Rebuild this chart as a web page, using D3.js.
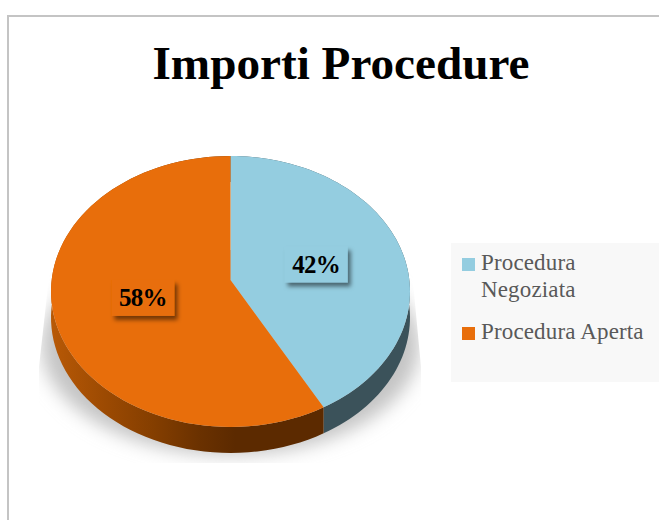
<!DOCTYPE html>
<html>
<head>
<meta charset="utf-8">
<script src="https://cdn.jsdelivr.net/npm/d3@7"></script>
<style>
  html, body { margin: 0; padding: 0; background: #fff; }
  svg { display: block; }
  text { font-family: "Liberation Serif", serif; }
</style>
</head>
<body>
<svg id="chart" width="659" height="520"></svg>
<script>
var chartTitle = "Importi Procedure";
var categories = ["Procedura Negoziata", "Procedura Aperta"];
var values = [42, 58];
var legendLines = [["Procedura", "Negoziata"], ["Procedura Aperta"]];
var colors = ["#94cde0", "#e86e0b"];

var svg = d3.select("#chart");
var defs = svg.append("defs");

// card
svg.append("rect")
    .attr("x", 8).attr("y", 16)
    .attr("width", 700).attr("height", 600)
    .attr("fill", "#fff")
    .attr("stroke", "#c4c4c4")
    .attr("stroke-width", 2);

svg.append("text")
    .attr("x", 341).attr("y", 79)
    .attr("text-anchor", "middle")
    .attr("font-size", 47.2)
    .attr("font-weight", "bold")
    .attr("fill", "#000")
    .text(chartTitle);

// pie tilted with a bit of perspective, front looks bigger than back
var cx = 230.5, cy = 280, rx = 178.85, ry = 134.5, persp = 0.0849, depth = 26;

function project(angle, r) {
    var u = Math.sin(angle) * r;
    var v = -Math.cos(angle) * r;
    var k = 1 - persp * v;
    return [cx + rx * u / k, cy + ry * v / k];
}

var color = d3.scaleOrdinal().domain(categories).range(colors);
var pie = d3.pie().sort(null);
var slices = pie(values);
var line = d3.line();

function arcPoints(d) {
    var n = 80;
    return d3.range(n + 1).map(function(i) {
        return project(d.startAngle + (d.endAngle - d.startAngle) * i / n, 1);
    });
}

// side gradient for the orange part
var grad = defs.append("linearGradient")
    .attr("id", "sideOrange")
    .attr("gradientUnits", "userSpaceOnUse")
    .attr("x1", 51).attr("x2", 322).attr("y1", 0).attr("y2", 0);
[[0, "#b85906"], [0.2, "#9c4a02"], [0.38, "#843e00"], [0.55, "#6a3100"], [0.68, "#5c2a00"], [1, "#5c2a00"]]
    .forEach(function(s) {
        grad.append("stop").attr("offset", s[0]).attr("stop-color", s[1]);
    });

// shadow under the pie
defs.append("filter").attr("id", "blur")
    .attr("x", "-30%").attr("y", "-30%").attr("width", "160%").attr("height", "160%")
    .append("feGaussianBlur").attr("stdDeviation", 9);
defs.append("clipPath").attr("id", "shadowClip")
    .append("path")
    .attr("d", "M52,250L39,367L39,463L421,463L421,367L410,250Z");
defs.append("filter").attr("id", "labelShadow")
    .attr("x", "-30%").attr("y", "-30%").attr("width", "170%").attr("height", "170%")
    .append("feDropShadow")
    .attr("dx", 3).attr("dy", 4).attr("stdDeviation", 2.2)
    .attr("flood-color", "#000").attr("flood-opacity", 0.5);

svg.append("g").attr("clip-path", "url(#shadowClip)")
    .append("ellipse")
    .attr("cx", cx).attr("cy", 345)
    .attr("rx", 189).attr("ry", 110)
    .attr("fill", "#c4c4c4")
    .attr("filter", "url(#blur)");

// sides
svg.append("g").selectAll("path")
    .data(slices)
    .join("path")
    .attr("d", function(d) {
        var top = arcPoints(d);
        var bottom = top.map(function(p) { return [p[0], p[1] + depth]; }).reverse();
        return line(top.concat(bottom)) + "Z";
    })
    .attr("fill", function(d, i) { return i === 0 ? "#3b525a" : "url(#sideOrange)"; });

// top face
svg.append("g").selectAll("path")
    .data(slices)
    .join("path")
    .attr("d", function(d) {
        return line([[cx, cy]].concat(arcPoints(d))) + "Z";
    })
    .attr("fill", function(d, i) { return color(categories[i]); });

// data labels
var labels = svg.append("g").selectAll("g")
    .data(slices)
    .join("g")
    .attr("transform", function(d) {
        var p = project((d.startAngle + d.endAngle) / 2, 0.5);
        return "translate(" + p[0] + "," + (p[1] + 1) + ")";
    });
labels.append("rect")
    .attr("x", -31.5).attr("y", -18)
    .attr("width", 63).attr("height", 36)
    .attr("fill", function(d, i) { return color(categories[i]); })
    .attr("filter", "url(#labelShadow)");
labels.append("text")
    .attr("text-anchor", "middle")
    .attr("y", 8.5)
    .attr("font-size", 25)
    .attr("font-weight", "bold")
    .attr("letter-spacing", -0.7)
    .attr("fill", "#000")
    .text(function(d) { return d.data + "%"; });

// legend
svg.append("rect")
    .attr("x", 451).attr("y", 243)
    .attr("width", 208).attr("height", 139)
    .attr("fill", "#f8f8f8");

var legendY = d3.scalePoint().domain(categories).range([258, 327]);
var legend = svg.append("g").selectAll("g")
    .data(categories)
    .join("g")
    .attr("transform", function(d) { return "translate(462," + legendY(d) + ")"; });
legend.append("rect")
    .attr("width", 13).attr("height", 13)
    .attr("fill", function(d) { return color(d); });
legend.each(function(d, i) {
    d3.select(this).selectAll("text")
        .data(legendLines[i])
        .join("text")
        .attr("x", 19)
        .attr("y", function(t, j) { return 12 + j * 27; })
        .attr("font-size", 23)
        .attr("letter-spacing", 0.15)
        .attr("fill", "#595959")
        .text(function(t) { return t; });
});
</script>
</body>
</html>
